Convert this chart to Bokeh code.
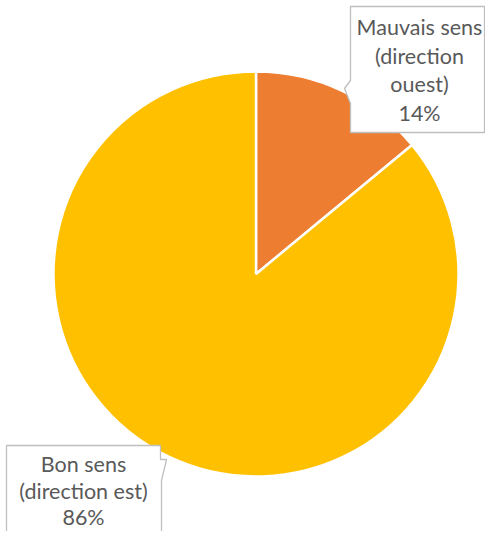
import numpy as np
from bokeh.plotting import figure
from bokeh.models import Range1d, ColumnDataSource
from bokeh.core.properties import value
from bokeh.embed import file_html
from bokeh.resources import INLINE

# ---- data ----
categories = ["Mauvais sens (direction ouest)", "Bon sens (direction est)"]
label_lines = [["Mauvais sens", "(direction", "ouest)"], ["Bon sens", "(direction est)"]]
shares = [14, 86]
colors = ["#ED7D31", "#FFC000"]

# ---- layout (pixel coords from the picture's top-left) ----
W, H = 485, 531


def fy(y):
    return H - y


p = figure(width=W, height=H, x_range=Range1d(0, W), y_range=Range1d(0, H),
           output_backend="svg", toolbar_location=None, min_border=0)
p.axis.visible = False
p.grid.visible = False
p.outline_line_color = None
p.background_fill_color = "white"
p.border_fill_color = "white"

cx, cy, r = 255.5, fy(273.5), 202.5
frac = np.array(shares, dtype=float) / sum(shares)
ends = np.pi / 2 - 2 * np.pi * np.cumsum(frac)
starts = np.concatenate([[np.pi / 2], ends[:-1]])
src = ColumnDataSource(dict(start=ends, end=starts, color=colors, cat=categories))
p.wedge(x=cx, y=cy, radius=r, start_angle="start", end_angle="end", fill_color="color",
        line_color="white", line_width=2.5, source=src)

# callout boxes
box_xs = [
    [350, 484, 484, 350, 350, 344, 350],
    [6, 160, 160, 166, 161, 161, 6],
]
box_ys = [
    [6, 6, 132, 132, 103, 88, 80],
    [445, 445, 459, 459, 480, 545, 545],
]
p.patches(xs=box_xs, ys=[[fy(v) for v in ys] for ys in box_ys], fill_color="white",
          line_color="#BFBFBF", line_width=1.3)

# label texts
text_cx = [419, 83]
text_base = [[26, 55, 83, 112], [463, 490, 516]]
tx, ty, tt = [], [], []
for i in range(len(shares)):
    lines = label_lines[i] + [f"{shares[i]}%"]
    for ln, b in zip(lines, text_base[i]):
        tx.append(text_cx[i])
        ty.append(fy(b))
        tt.append(ln)
p.text(x=tx, y=ty, text=tt, text_align="center", text_baseline="alphabetic",
       text_font=value("Lato"), text_font_size="21.5px", text_color="#595959")

open("out.html", "w").write(file_html(p, INLINE))
